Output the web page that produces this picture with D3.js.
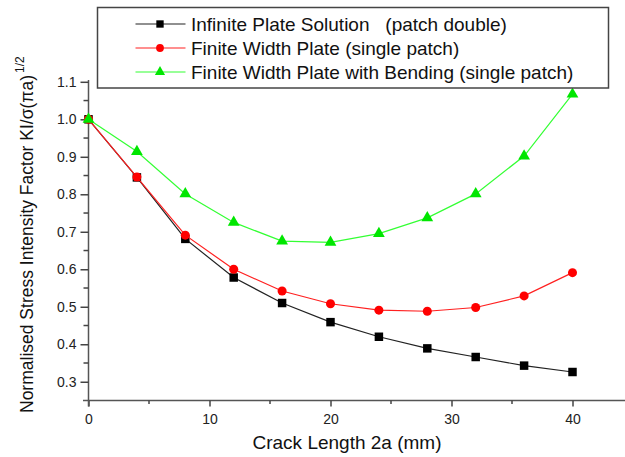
<!DOCTYPE html>
<html><head><meta charset="utf-8">
<script src="https://cdn.jsdelivr.net/npm/d3@7"></script>
<style>
body{margin:0;background:#fff;}
svg{font-family:"Liberation Sans",Arial,Helvetica,sans-serif;}
</style></head>
<body><svg id="c" width="625" height="457"></svg>
<script>
const crackLength = [0,4,8,12,16,20,24,28,32,36,40];
const infinitePlate = [1.0,0.845,0.681,0.578,0.510,0.459,0.420,0.389,0.366,0.343,0.326];
const finiteWidth = [1.0,0.846,0.691,0.600,0.542,0.508,0.491,0.488,0.498,0.529,0.591];
const finiteBending = [1.0,0.914,0.801,0.725,0.675,0.672,0.695,0.737,0.801,0.902,1.067];
const seriesNames = ["Infinite Plate Solution   (patch double)","Finite Width Plate (single patch)","Finite Width Plate with Bending (single patch)"];
const xTicks = [0,10,20,30,40];
const yTicks = [0.3,0.4,0.5,0.6,0.7,0.8,0.9,1.0,1.1];

const svg = d3.select("#c");
const x = d3.scaleLinear().domain([0,40]).range([88.5,572.5]);
const y = d3.scaleLinear().domain([0.25,1.1]).range([400.5,81.8]);

// axes
const gx = svg.append("g").attr("transform","translate(0,400.5)");
gx.append("line").attr("x1",83).attr("x2",625).attr("stroke","#555").attr("stroke-width",1.5);
gx.call(g=>{
  const ax = d3.axisBottom(x).tickValues(xTicks).tickSize(6).tickFormat(d3.format("d"));
  g.call(ax);
  g.select(".domain").remove();
  g.selectAll(".tick line").attr("stroke","#444").attr("stroke-width",1.5);
  g.selectAll(".tick text").attr("font-size",14).attr("fill","#222").attr("dy","1em").attr("font-family","Liberation Sans, Arial, sans-serif");
});
gx.selectAll(".minor").data([5,15,25,35]).enter().append("line")
  .attr("x1",d=>x(d)).attr("x2",d=>x(d)).attr("y1",0).attr("y2",3.5).attr("stroke","#444").attr("stroke-width",1.5);

const gy = svg.append("g").attr("transform","translate(88.5,0)");
gy.append("line").attr("y1",80).attr("y2",406.5).attr("stroke","#555").attr("stroke-width",1.5);
gy.call(g=>{
  const ay = d3.axisLeft(y).tickValues(yTicks).tickSize(8).tickFormat(d3.format(".1f"));
  g.call(ay);
  g.select(".domain").remove();
  g.selectAll(".tick line").attr("stroke","#444").attr("stroke-width",1.5);
  g.selectAll(".tick text").attr("font-size",14).attr("fill","#222").attr("x",-12).attr("font-family","Liberation Sans, Arial, sans-serif");
});
gy.selectAll(".minor").data([0.35,0.45,0.55,0.65,0.75,0.85,0.95,1.05]).enter().append("line")
  .attr("y1",d=>y(d)).attr("y2",d=>y(d)).attr("x1",0).attr("x2",-5).attr("stroke","#444").attr("stroke-width",1.5);

// labels
svg.append("text").attr("x",347).attr("y",449).attr("text-anchor","middle").attr("font-size",19).attr("fill","#111").text("Crack Length 2a (mm)");
const yl = svg.append("text").attr("transform","translate(33,413) rotate(-90)").attr("text-anchor","start").attr("font-size",17.5).attr("fill","#111");
yl.append("tspan").text("Normalised Stress Intensity Factor KI/σ(πa)");
yl.append("tspan").attr("font-size",12).attr("dy",-9).attr("dx",2).text("1/2");

// series
const series = [
  {vals:infinitePlate, color:"#000", line:"#222", sym:d3.symbolSquare, size:72},
  {vals:finiteWidth, color:"#ff0000", line:"#ff2020", sym:d3.symbolCircle, size:64},
  {vals:finiteBending, color:"#00e600", line:"#33ff33", sym:d3.symbolTriangle, size:60}
];
const lineGen = d3.line().x((d,i)=>x(crackLength[i])).y(d=>y(d));
series.forEach(s=>{
  svg.append("path").attr("d",lineGen(s.vals)).attr("fill","none").attr("stroke",s.line).attr("stroke-width",1.2);
  svg.append("g").selectAll("path").data(s.vals).enter().append("path")
    .attr("d",d3.symbol().type(s.sym).size(s.size))
    .attr("transform",(d,i)=>`translate(${x(crackLength[i])},${y(d)})`)
    .attr("fill",s.color);
});

// legend
const lg = svg.append("g");
lg.append("rect").attr("x",97.5).attr("y",7.5).attr("width",511).attr("height",80.5).attr("fill","#fff").attr("stroke","#444").attr("stroke-width",1.5);
const rowsY = [24,48,72];
series.forEach((s,i)=>{
  lg.append("line").attr("x1",135.5).attr("x2",185.5).attr("y1",rowsY[i]).attr("y2",rowsY[i]).attr("stroke",s.line).attr("stroke-width",1.2);
  lg.append("path").attr("d",d3.symbol().type(s.sym).size(s.size*0.75)).attr("transform",`translate(160,${rowsY[i]})`).attr("fill",s.color);
  lg.append("text").attr("x",191).attr("y",rowsY[i]).attr("dy","0.35em").attr("font-size",19).attr("fill","#111").style("white-space","pre").text(seriesNames[i]);
});
</script></body></html>
